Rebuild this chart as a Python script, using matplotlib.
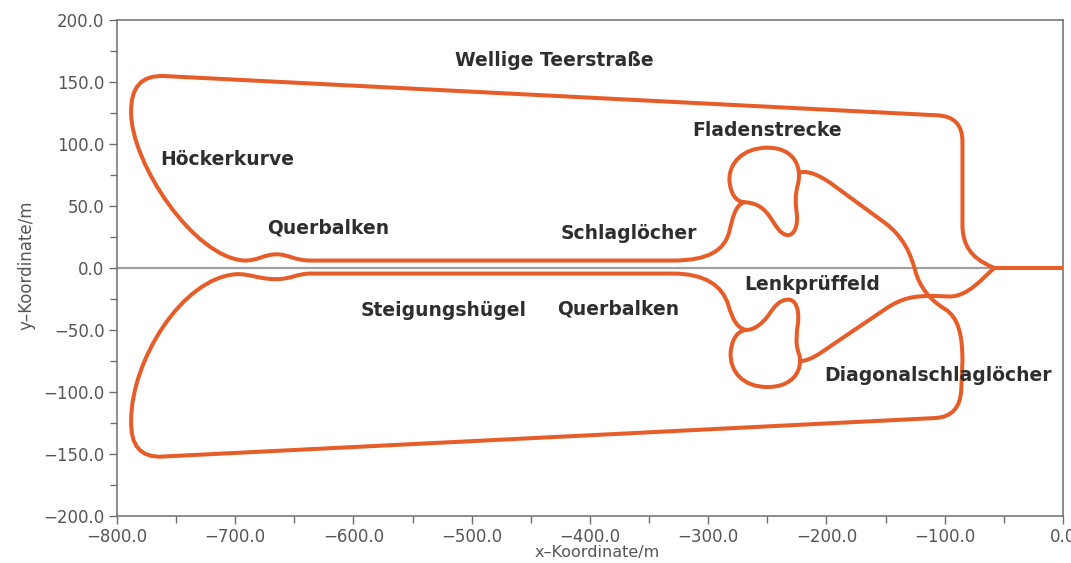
import matplotlib
matplotlib.use("Agg")
import matplotlib.pyplot as plt
from matplotlib.path import Path
from matplotlib.patches import PathPatch
from matplotlib.ticker import MultipleLocator, FuncFormatter

# Track sections in metres.  One path code per vertex:
# M = move to, L = straight, Q = quadratic Bezier pair, C = cubic Bezier triple.

# Northern outer loop: exit junction -> wavy tar road -> hump curve -> cross beams
north_x = [-58, -70, -85, -85, -85, -85, -106, -760, -789, -788, -788, -735, -692,
           -680, -676, -665, -655, -650, -636, -330, -300, -286, -282, -279, -277, -270]
north_y = [0, 5, 12, 35, 102, 122.2, 123.1, 154.8, 156.2, 125, 85, 8, 6,
           6, 11, 11, 11, 6, 6, 6, 6, 14, 30, 42, 50, 53]
north_codes = "MCCCLQQLQQCCCCCCCCCLCCCCCC"

# Northern figure loop (Fladenstrecke / Schlaglöcher)
north_loop_x = [-270, -262, -255, -250, -244, -240, -233, -227, -224, -225, -226,
                -227, -224, -221, -226, -250, -270, -283, -282, -281, -277, -270]
north_loop_y = [53, 53, 50, 44, 36.8, 27, 26.5, 26, 35, 43, 51,
                58, 68, 80, 97, 97, 97, 85, 70, 60, 54, 53]
north_loop_codes = "M" + "CCC" * 7

# Diagonal from the northern loop into the southern outer loop
south_x = [-223, -215, -204, -193, -150, -135, -129, -125, -121, -112, -100,
           -88, -85, -85, -86, -87, -108, -762, -789, -788, -788, -745, -699,
           -688, -680, -666, -652, -648, -636, -330, -303, -288, -283, -279, -276, -268]
south_y = [77, 79, 74, 66, 36, 25, 12, -2, -16, -26, -33,
           -40, -55, -75, -98, -120, -121, -152.1, -153.5, -123, -75, -8, -5,
           -4.5, -9, -9, -9, -4.5, -4.5, -4.5, -4.5, -14, -30, -42, -48, -50]
south_codes = "MCCCLCCCCCCCCCLQQLQQCCCCCCCCCLCCCCCC"

# Southern figure loop (Lenkprüffeld)
south_loop_x = [-268, -262, -255, -249, -244, -240, -233, -226, -223, -224, -225,
                -227, -223, -220, -226, -250, -270, -282, -281, -280, -276, -268]
south_loop_y = [-50, -50, -46, -38, -31, -26, -25.5, -25, -33, -44, -52,
                -60, -70, -80, -96, -96, -96, -84, -68, -58, -51, -50]
south_loop_codes = "M" + "CCC" * 7

# Diagonal from the southern loop to the exit straight
exit_x = [-221, -213, -207, -195, -150, -136, -126, -110, -96, -80, -68, -58, 0]
exit_y = [-75, -74, -70, -62, -33, -24, -22.5, -22.5, -23, -23, -8, 0, 0]
exit_codes = "MCCCLCCCLCCCL"

# Section labels
label_text = ["Wellige Teerstraße", "Höckerkurve", "Querbalken", "Fladenstrecke",
              "Schlaglöcher", "Lenkprüffeld", "Steigungshügel", "Querbalken",
              "Diagonalschlaglöcher"]
label_x = [-430.4, -707, -621, -250, -367.4, -211.8, -523.9, -376, -106]
label_y = [167.7, 87.1, 32.3, 110.5, 28.2, -13.7, -33.9, -33, -86.3]

x_ticks = [-800, -700, -600, -500, -400, -300, -200, -100, 0]
y_ticks = [-200, -150, -100, -50, 0, 50, 100, 150, 200]

CODE_MAP = {"M": Path.MOVETO, "L": Path.LINETO, "Q": Path.CURVE3, "C": Path.CURVE4}

TRACK = "#e65d2a"
AXIS_GREY = "#6e6e6e"

fig = plt.figure(figsize=(10.71, 5.63), dpi=100)
ax = fig.add_axes([0.1092, 0.0835, 0.8833, 0.8810])

ax.axhline(0, color="#a0a0a0", lw=1.6, zorder=1)

sections = [
    (north_x, north_y, north_codes),
    (north_loop_x, north_loop_y, north_loop_codes),
    (south_x, south_y, south_codes),
    (south_loop_x, south_loop_y, south_loop_codes),
    (exit_x, exit_y, exit_codes),
]
for xs, ys, codes in sections:
    path = Path(list(zip(xs, ys)), [CODE_MAP[c] for c in codes])
    ax.add_patch(PathPatch(path, facecolor="none", edgecolor=TRACK, lw=2.9,
                           joinstyle="round", capstyle="round", zorder=3))

for txt, tx, ty in zip(label_text, label_x, label_y):
    ax.text(tx, ty, txt, ha="center", va="center", fontsize=13.5,
            fontweight="bold", family="DejaVu Sans", color="#2e2e2e", zorder=4)

ax.set_xlim(-800, 0)
ax.set_ylim(-200, 200)
ax.set_xticks(x_ticks)
ax.set_yticks(y_ticks)
ax.xaxis.set_minor_locator(MultipleLocator(50))
ax.yaxis.set_minor_locator(MultipleLocator(25))


def fmt(v, _pos):
    if abs(v) < 1e-9:
        v = 0.0
    return f"{v:.1f}".replace("-", "\u2212")


ax.xaxis.set_major_formatter(FuncFormatter(fmt))
ax.yaxis.set_major_formatter(FuncFormatter(fmt))

ax.tick_params(which="both", direction="out", color=AXIS_GREY, width=1.0,
               labelcolor="#555555", labelsize=12, top=False, right=False)
ax.tick_params(which="major", length=6, pad=3)
ax.tick_params(which="minor", length=5)
for sp in ax.spines.values():
    sp.set_color(AXIS_GREY)
    sp.set_linewidth(1.1)

ax.set_xlabel("x\u2013Koordinate/m", fontsize=11.5, color="#555555")
ax.set_ylabel("y\u2013Koordinate/m", fontsize=12, color="#555555")
ax.xaxis.set_label_coords(0.508, -0.058)
ax.yaxis.set_label_coords(-0.086, 0.505)

fig.savefig("out.png", dpi=100, facecolor="white")
